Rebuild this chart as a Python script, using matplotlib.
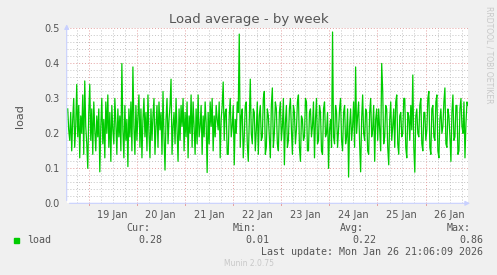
import numpy as np
import matplotlib
matplotlib.use("Agg")
import matplotlib.pyplot as plt

# half-hourly load samples, oldest first (last sample = Jan 26 21:06)
load = [
    0.27, 0.21, 0.18, 0.26, 0.15, 0.24, 0.30, 0.16, 0.22, 0.34,
    0.19, 0.28, 0.13, 0.25, 0.20, 0.31, 0.14, 0.35, 0.22, 0.17,
    0.10, 0.26, 0.34, 0.18, 0.27, 0.14, 0.29, 0.21, 0.15, 0.25,
    0.19, 0.27, 0.09, 0.22, 0.30, 0.17, 0.24, 0.13, 0.29, 0.20,
    0.31, 0.16, 0.26, 0.12, 0.28, 0.21, 0.17, 0.30, 0.23, 0.14,
    0.27, 0.19, 0.25, 0.15, 0.40, 0.21, 0.13, 0.28, 0.18, 0.24,
    0.105, 0.27, 0.19, 0.29, 0.15, 0.39, 0.22, 0.14, 0.28, 0.18,
    0.25, 0.31, 0.16, 0.27, 0.13, 0.24, 0.30, 0.19, 0.26, 0.15,
    0.31, 0.20, 0.13, 0.27, 0.18, 0.25, 0.30, 0.14, 0.22, 0.28,
    0.16, 0.29, 0.21, 0.26, 0.14, 0.32, 0.19, 0.095, 0.24, 0.30,
    0.17, 0.24, 0.28, 0.355, 0.14, 0.22, 0.26, 0.17, 0.30, 0.21,
    0.12, 0.27, 0.18, 0.28, 0.22, 0.30, 0.15, 0.26, 0.19, 0.29,
    0.13, 0.25, 0.20, 0.31, 0.16, 0.29, 0.22, 0.14, 0.27, 0.17,
    0.31, 0.19, 0.22, 0.28, 0.14, 0.25, 0.19, 0.29, 0.23, 0.088,
    0.26, 0.17, 0.29, 0.22, 0.30, 0.15, 0.25, 0.19, 0.28, 0.24,
    0.21, 0.29, 0.13, 0.24, 0.28, 0.347, 0.18, 0.26, 0.27, 0.14,
    0.14, 0.25, 0.30, 0.19, 0.22, 0.28, 0.11, 0.24, 0.20, 0.29,
    0.26, 0.484, 0.16, 0.25, 0.27, 0.13, 0.19, 0.28, 0.29, 0.17,
    0.12, 0.24, 0.355, 0.20, 0.17, 0.27, 0.26, 0.15, 0.21, 0.29,
    0.14, 0.25, 0.28, 0.18, 0.19, 0.30, 0.32, 0.14, 0.16, 0.27,
    0.25, 0.19, 0.13, 0.28, 0.33, 0.16, 0.20, 0.29, 0.27, 0.17,
    0.15, 0.26, 0.29, 0.18, 0.22, 0.30, 0.11, 0.23, 0.28, 0.16,
    0.18, 0.27, 0.30, 0.21, 0.14, 0.28, 0.26, 0.17, 0.21, 0.29,
    0.31, 0.16, 0.12, 0.25, 0.24, 0.18, 0.19, 0.30, 0.29, 0.15,
    0.15, 0.26, 0.27, 0.19, 0.22, 0.29, 0.13, 0.24, 0.30, 0.17,
    0.18, 0.28, 0.26, 0.15, 0.14, 0.27, 0.29, 0.19, 0.20, 0.26,
    0.10, 0.21, 0.24, 0.16, 0.49, 0.19, 0.17, 0.28, 0.26, 0.16,
    0.21, 0.27, 0.30, 0.18, 0.15, 0.26, 0.28, 0.17, 0.19, 0.27,
    0.075, 0.22, 0.27, 0.18, 0.22, 0.29, 0.16, 0.39, 0.20, 0.25,
    0.29, 0.17, 0.09, 0.24, 0.31, 0.20, 0.18, 0.27, 0.26, 0.15,
    0.14, 0.26, 0.30, 0.19, 0.21, 0.28, 0.12, 0.24, 0.27, 0.18,
    0.27, 0.21, 0.15, 0.40, 0.32, 0.17, 0.19, 0.28, 0.27, 0.16,
    0.11, 0.24, 0.29, 0.18, 0.22, 0.27, 0.16, 0.29, 0.31, 0.17,
    0.14, 0.25, 0.26, 0.19, 0.20, 0.30, 0.30, 0.16, 0.13, 0.26,
    0.25, 0.18, 0.28, 0.21, 0.367, 0.16, 0.089, 0.25, 0.27, 0.20,
    0.19, 0.28, 0.30, 0.17, 0.15, 0.26, 0.26, 0.18, 0.21, 0.30,
    0.32, 0.16, 0.14, 0.27, 0.28, 0.19, 0.18, 0.29, 0.31, 0.15,
    0.13, 0.24, 0.27, 0.20, 0.22, 0.29, 0.33, 0.17, 0.16, 0.27,
    0.25, 0.19, 0.12, 0.26, 0.31, 0.18, 0.19, 0.28, 0.28, 0.14,
    0.15, 0.27, 0.30, 0.22, 0.20, 0.29, 0.13, 0.23, 0.29, 0.28,
]
day_labels = ["19 Jan", "20 Jan", "21 Jan", "22 Jan", "23 Jan", "24 Jan", "25 Jan", "26 Jan"]
stats_names = ["Cur:", "Min:", "Avg:", "Max:"]
stats_vals = ["0.28", "0.01", "0.22", "0.86"]

# x in days since Jan 18 00:00
t_end = 8 + (21 + 6 / 60) / 24
t = t_end - (len(load) - 1 - np.arange(len(load))) / 48
x0 = t_end - 200 / 24

fig = plt.figure(figsize=(4.97, 2.75), dpi=100, facecolor="#f0f0f0")
ax = fig.add_axes([0.1342, 0.2607, 0.8074, 0.6357])
ax.set_facecolor("white")
ax.set_xlim(x0, t_end)
ax.set_ylim(0, 0.5)

# grid
gray = "#c4c4c4"
red = "#e5a0a0"
for v in np.arange(np.ceil(x0 * 4) / 4, t_end, 0.25):
    if abs(v - round(v)) > 1e-6:
        ax.axvline(v, color=gray, lw=0.7, ls=(0, (1, 2)), zorder=1)
for v in np.arange(0.02, 0.5, 0.02):
    if abs(v * 10 - round(v * 10)) > 1e-6:
        ax.axhline(v, color=gray, lw=0.7, ls=(0, (1, 2)), zorder=1)
for d in range(1, 9):
    ax.axvline(d, color=red, lw=0.7, ls=(0, (1, 2)), zorder=1)
    ax.plot([d, d], [-0.006, 0], color=red, lw=0.7, clip_on=False)
for v in np.arange(0.1, 0.51, 0.1):
    ax.axhline(v, color=red, lw=0.7, ls=(0, (1, 2)), zorder=1)

ax.plot(t, load, color="#00cc00", lw=0.9, zorder=3)

for s in ax.spines.values():
    s.set_visible(False)
axis_col = "#c8d0ff"
ax.annotate("", xy=(1.012, 0), xytext=(0, 0), xycoords="axes fraction",
            arrowprops=dict(arrowstyle="-|>", color=axis_col, lw=0.8, mutation_scale=7))
ax.annotate("", xy=(0, 1.04), xytext=(0, 0), xycoords="axes fraction",
            arrowprops=dict(arrowstyle="-|>", color=axis_col, lw=0.8, mutation_scale=7))

ax.set_xticks([d + 0.5 for d in range(1, 9)])
ax.set_xticklabels(day_labels)
ax.set_yticks([0, 0.1, 0.2, 0.3, 0.4, 0.5])
ax.set_yticklabels(["0.0", "0.1", "0.2", "0.3", "0.4", "0.5"])
ax.tick_params(length=0, labelsize=7, colors="#555555", pad=5)
ax.set_ylabel("load", fontsize=8, color="#555555", labelpad=14)

fig.text(0.5, 0.93, "Load average - by week", ha="center", va="center",
         fontsize=9.5, color="#555555")
fig.text(0.984, 0.98, "RRDTOOL / TOBI OETIKER", rotation=-90, ha="center", va="top",
         fontsize=5.5, color="#c8c8c8")

mono = "DejaVu Sans Mono"
col_right = [162, 269, 376, 483]
for name, val, xr in zip(stats_names, stats_vals, col_right):
    fig.text((xr - 12) / 497, 1 - 228 / 275, name, ha="right", va="center",
             family=mono, fontsize=7.2, color="#555555")
    fig.text(xr / 497, 1 - 240 / 275, val, ha="right", va="center",
             family=mono, fontsize=7.2, color="#555555")
fig.patches.append(plt.Rectangle((14 / 497, 1 - 243 / 275), 5 / 497, 5 / 275,
                                 transform=fig.transFigure, color="#00cc00"))
fig.text(27 / 497, 1 - 240 / 275, "load", ha="left", va="center",
         family=mono, fontsize=7.2, color="#555555")
fig.text(483 / 497, 1 - 252 / 275, "Last update: Mon Jan 26 21:06:09 2026",
         ha="right", va="center", family=mono, fontsize=7.2, color="#555555")
fig.text(0.5, 1 - 264 / 275, "Munin 2.0.75", ha="center", va="center",
         fontsize=5.5, color="#c8c8c8")

fig.savefig("out.png", dpi=100, facecolor=fig.get_facecolor())
